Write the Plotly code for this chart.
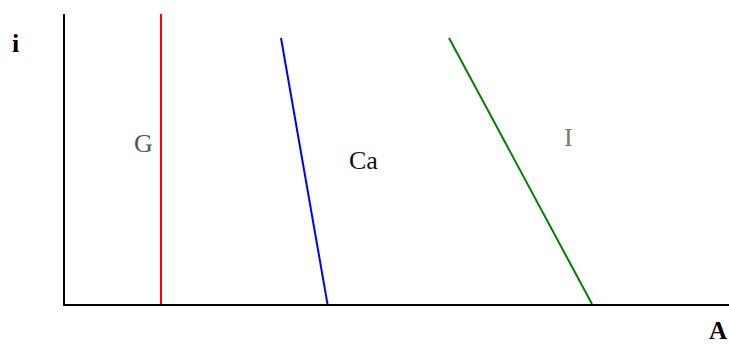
import plotly.graph_objects as go

# curve end points (x in A units, y in i units)
g_x = [96, 96]
g_y = [-4, 291]
ca_x = [216, 263]
ca_y = [266, -3]
i_x = [384, 527]
i_y = [266, 0]

labels = ["G", "Ca", "I"]
label_x = [78, 298, 503]
label_y = [161, 144, 167]
label_colors = ["#555555", "#111111", "#777777"]

fig = go.Figure()
fig.add_trace(go.Scatter(x=g_x, y=g_y, mode="lines", line=dict(color="#ff0000", width=2)))
fig.add_trace(go.Scatter(x=ca_x, y=ca_y, mode="lines", line=dict(color="#0000ff", width=2)))
fig.add_trace(go.Scatter(x=i_x, y=i_y, mode="lines", line=dict(color="#008000", width=2)))

for t, x, y, c in zip(labels, label_x, label_y, label_colors):
    fig.add_annotation(x=x, y=y, text=t, showarrow=False,
                       font=dict(family="Liberation Serif", size=26, color=c))

# axis names
fig.add_annotation(xref="paper", yref="paper", x=-0.075, y=0.897, text="<b>i</b>",
                   xanchor="center", yanchor="middle", showarrow=False,
                   font=dict(family="Liberation Serif", size=26, color="black"))
fig.add_annotation(xref="paper", yref="paper", x=0.983, y=-0.093, text="<b>A</b>",
                   xanchor="center", yanchor="middle", showarrow=False, borderpad=0,
                   font=dict(family="Liberation Serif", size=25, color="black"))

fig.update_xaxes(range=[0, 664], showgrid=False, zeroline=False, showticklabels=False,
                 showline=True, linecolor="black", linewidth=2, ticks="")
fig.update_yaxes(range=[0, 290], showgrid=False, zeroline=False, showticklabels=False,
                 showline=True, linecolor="black", linewidth=2, ticks="")
fig.update_layout(width=729, height=345, showlegend=False,
                  plot_bgcolor="white", paper_bgcolor="white",
                  margin=dict(l=65, r=0, t=14, b=41))

# drop the default page margin so the figure sits at the window corner
fig.write_html("out.html", config={"displayModeBar": False},
               post_script="document.body.style.margin='0';document.body.style.overflow='hidden';")
